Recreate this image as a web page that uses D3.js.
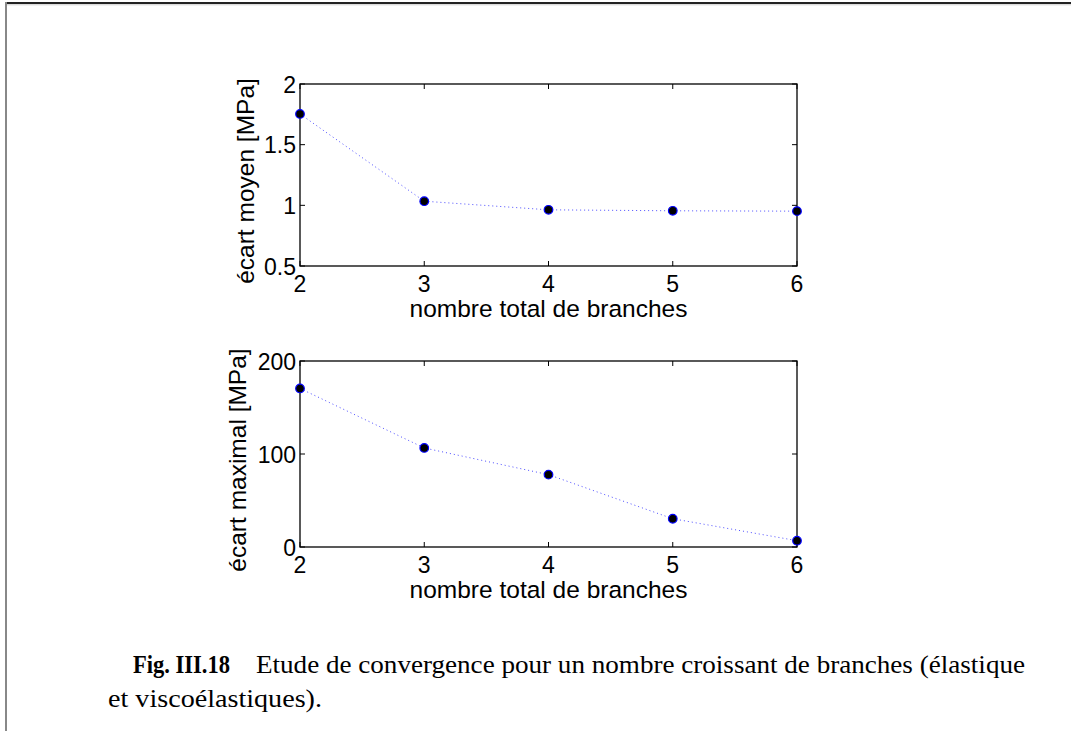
<!DOCTYPE html>
<html>
<head>
<meta charset="utf-8">
<script src="https://cdn.jsdelivr.net/npm/d3@7"></script>
<style>
  html, body { margin: 0; padding: 0; background: #fff; }
  svg { display: block; }
</style>
</head>
<body>
<svg id="fig" width="1071" height="731"></svg>
<script>
// Number of branches in the model
const branches = [2, 3, 4, 5, 6];
// Mean deviation [MPa]
const ecartMoyen = [1.753, 1.034, 0.963, 0.955, 0.952];
// Maximum deviation [MPa]
const ecartMaximal = [170.5, 106.5, 77.8, 30.4, 6.8];

const xTicks = [2, 3, 4, 5, 6];
const yTicksMoyen = [0.5, 1, 1.5, 2];
const yTicksMaximal = [0, 100, 200];

const svg = d3.select("#fig");
const font = "'Liberation Sans', Arial, Helvetica, sans-serif";
const serif = "'Liberation Serif', 'Times New Roman', serif";
const tickFs = 23;   // tick label size
const labelFs = 24.5; // axis label size

// page frame
svg.append("line").attr("x1", 5).attr("x2", 1071).attr("y1", 3).attr("y2", 3)
  .attr("stroke", "#222").attr("stroke-width", 2);
svg.append("line").attr("x1", 7).attr("x2", 1071).attr("y1", 4.8).attr("y2", 4.8)
  .attr("stroke", "#ccc").attr("stroke-width", 1);
svg.append("line").attr("x1", 6).attr("x2", 6).attr("y1", 2).attr("y2", 731)
  .attr("stroke", "#888").attr("stroke-width", 2);

function panel(box, yDomain, yTicks, values, yLabel, fmt) {
  const x = d3.scaleLinear().domain([2, 6]).range([box.left, box.right]);
  const y = d3.scaleLinear().domain(yDomain).range([box.bottom, box.top]);
  const g = svg.append("g");
  const tick = 5;

  // data line (dotted)
  g.append("path")
    .datum(values)
    .attr("fill", "none")
    .attr("stroke", "#4d4dff")
    .attr("stroke-width", 1)
    .attr("stroke-dasharray", "1,3")
    .attr("d", d3.line().x((d, i) => x(branches[i])).y(d => y(d)));

  // axes box
  g.append("rect")
    .attr("x", box.left).attr("y", box.top)
    .attr("width", box.right - box.left).attr("height", box.bottom - box.top)
    .attr("fill", "none").attr("stroke", "#000").attr("stroke-width", 1.3);

  // inward ticks on all four sides
  xTicks.forEach(t => {
    g.append("line").attr("x1", x(t)).attr("x2", x(t))
      .attr("y1", box.bottom).attr("y2", box.bottom - tick).attr("stroke", "#000");
    g.append("line").attr("x1", x(t)).attr("x2", x(t))
      .attr("y1", box.top).attr("y2", box.top + tick).attr("stroke", "#000");
    g.append("text").attr("x", x(t)).attr("y", box.bottom + 26)
      .attr("text-anchor", "middle").attr("font-family", font).attr("font-size", tickFs)
      .text(t);
  });
  yTicks.forEach(t => {
    g.append("line").attr("x1", box.left).attr("x2", box.left + tick)
      .attr("y1", y(t)).attr("y2", y(t)).attr("stroke", "#000");
    g.append("line").attr("x1", box.right).attr("x2", box.right - tick)
      .attr("y1", y(t)).attr("y2", y(t)).attr("stroke", "#000");
    g.append("text").attr("x", box.left - 4).attr("y", y(t) + 8.5)
      .attr("text-anchor", "end").attr("font-family", font).attr("font-size", tickFs)
      .text(fmt(t));
  });

  // markers
  g.selectAll("circle").data(values).enter().append("circle")
    .attr("cx", (d, i) => x(branches[i])).attr("cy", d => y(d))
    .attr("r", 4.3).attr("fill", "#000").attr("stroke", "#0000ff").attr("stroke-width", 1.2);

  // axis labels
  g.append("text").attr("x", (box.left + box.right) / 2).attr("y", box.bottom + 51)
    .attr("text-anchor", "middle").attr("font-family", font).attr("font-size", labelFs)
    .text("nombre total de branches");
  const cy = (box.top + box.bottom) / 2 + 6;
  g.append("text")
    .attr("transform", `translate(${box.left - box.labelGap},${cy}) rotate(-90)`)
    .attr("text-anchor", "middle").attr("font-family", font).attr("font-size", labelFs)
    .text(yLabel);
}

panel({ left: 300, right: 797, top: 84, bottom: 266, labelGap: 46 }, [0.5, 2], yTicksMoyen, ecartMoyen,
  "écart moyen [MPa]", d => String(d));
panel({ left: 300, right: 797, top: 361, bottom: 547, labelGap: 54 }, [0, 200], yTicksMaximal, ecartMaximal,
  "écart maximal [MPa]", d => String(d));

// caption
svg.append("text").attr("x", 133).attr("y", 673)
  .attr("font-family", serif).attr("font-size", 25).attr("font-weight", "bold")
  .attr("textLength", 97).attr("lengthAdjust", "spacingAndGlyphs")
  .text("Fig. III.18");
svg.append("text").attr("x", 256).attr("y", 673)
  .attr("font-family", serif).attr("font-size", 25)
  .attr("textLength", 769).attr("lengthAdjust", "spacingAndGlyphs")
  .text("Etude de convergence pour un nombre croissant de branches (élastique");
svg.append("text").attr("x", 108).attr("y", 707)
  .attr("font-family", serif).attr("font-size", 25)
  .attr("textLength", 214).attr("lengthAdjust", "spacingAndGlyphs")
  .text("et viscoélastiques).");
</script>
</body>
</html>
